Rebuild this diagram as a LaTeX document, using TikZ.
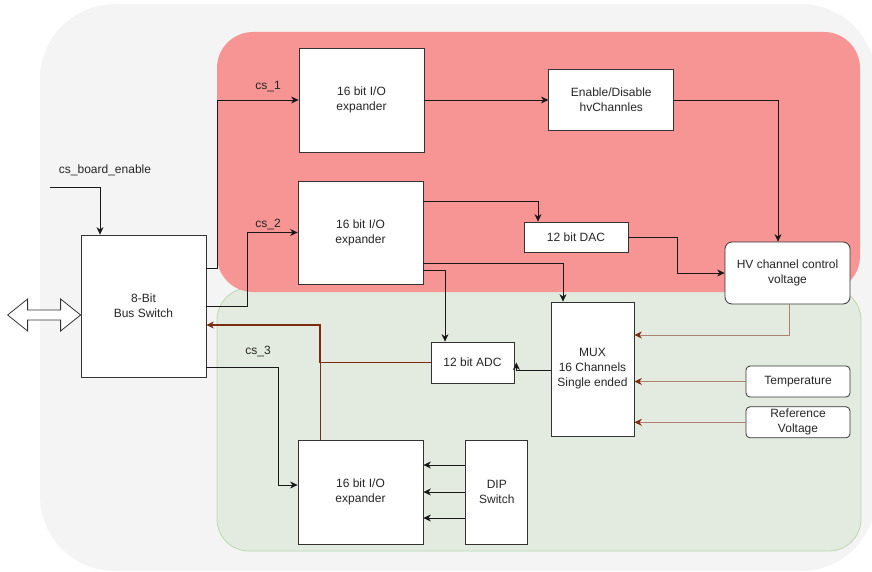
\documentclass[tikz,border=0pt]{standalone}
\usepackage{fontspec}
\setmainfont{Liberation Sans}
\usepackage{xcolor}
\usetikzlibrary{positioning,arrows.meta}

\definecolor{outerbg}{RGB}{244,244,244}
\definecolor{redbg}{RGB}{247,148,148}
\definecolor{greenbg}{RGB}{227,235,224}
\definecolor{greenln}{RGB}{185,217,171}
\definecolor{brn}{RGB}{125,45,15}

\begin{document}
\begin{tikzpicture}[
  x=1pt, y=-1pt,
  blk/.style={rectangle, draw=black!80, line width=0.8pt, fill=white,
              font=\fontsize{12}{15}\selectfont, text=black!85,
              align=center, inner sep=0pt},
  rblk/.style={blk, rounded corners=7pt},
  lbl/.style={font=\fontsize{12}{14}\selectfont, text=black!85, inner sep=0pt},
  e/.style={line width=0.8pt, draw=black!90,
            -{Stealth[length=7.5pt,width=7pt]}},
  ebr/.style={line width=0.9pt, draw=brn,
            -{Stealth[length=7.5pt,width=7pt]}},
  ebrl/.style={ebr, draw=brn!60, -{Stealth[length=7.5pt,width=7pt,color=brn]}},
  wbr/.style={line width=0.9pt, draw=brn}
]
  \clip (0,0) rectangle (872,572);
  % background regions
  \fill[outerbg, rounded corners=75pt] (40,4) rectangle (876,571);
  \filldraw[fill=greenbg, draw=greenln, line width=0.8pt, rounded corners=32pt]
    (217,288) rectangle (861,551);
  \fill[redbg, rounded corners=36pt] (217,32) rectangle (860,292);

  % blocks
  \node[blk, minimum width=125pt, minimum height=142pt] (BusSw) at (143.5,306) {8-Bit\\Bus Switch};
  \node[blk, minimum width=125pt, minimum height=104pt] (IO1) at (361.5,100) {16 bit I/O\\expander};
  \node[blk, minimum width=125pt, minimum height=61pt, right=124pt of IO1] (EnD) {Enable/Disable\\hvChannles};
  \node[blk, minimum width=125pt, minimum height=103pt] (IO2) at (360.5,232.5) {16 bit I/O\\expander};
  \node[blk, minimum width=104pt, minimum height=30pt] (DAC) at (576,237) {12 bit DAC};
  \node[rblk, minimum width=125pt, minimum height=62pt] (HV) at (787.5,273) {HV channel control\\voltage};
  \node[blk, minimum width=83pt, minimum height=41pt] (ADC) at (472.5,362.5) {12 bit ADC};
  \node[blk, minimum width=83pt, minimum height=134pt] (MUX) at (592.5,369) {MUX\\16 Channels\\Single ended};
  \node[rblk, rounded corners=4pt, minimum width=104pt, minimum height=31pt] (Temp) at (798,381.5) {Temperature};
  \node[rblk, rounded corners=4pt, minimum width=104pt, minimum height=31pt, below=9pt of Temp] (Ref) {Reference\\Voltage};
  \node[blk, minimum width=125pt, minimum height=104pt] (IO3) at (360.5,492) {16 bit I/O\\expander};
  \node[blk, minimum width=62pt, minimum height=104pt, right=42pt of IO3] (DIP) {DIP\\Switch};

  % labels
  \node[lbl] (lblBoard) at (105,170) {cs\_board\_enable};
  \node[lbl] (lblCs1) at (268,87) {cs\_1};
  \node[lbl] (lblCs2) at (268,225) {cs\_2};
  \node[lbl] (lblCs3) at (258,352) {cs\_3};

  % bus
  \draw[line width=0.8pt, draw=black!80, fill=white]
    ([yshift=-9pt]BusSw.west) -- ++(-20,-16) -- ++(0,11) -- ++(-33,0) -- ++(0,-11)
    -- ++(-20,16) -- ++(20,16) -- ++(0,-11) -- ++(33,0) -- ++(0,11) -- cycle;

  % chip selects
  \coordinate (csb) at (50,187);
  \draw[e] (csb) -| ([xshift=-43.5pt]BusSw.north);
  \draw[e] ([yshift=38pt]BusSw.east) -- ++(11,0) |- (IO1.west);
  \draw[e] (BusSw.east) -- ++(41,0) |- (IO2.west);
  \draw[e] ([yshift=-61pt]BusSw.east) -- ++(72,0) |- ([yshift=7pt]IO3.west);

  % signal paths
  \draw[e] (IO1.east) -- (IO1.east -| EnD.west);
  \draw[e] (EnD.east) -| ([xshift=-9.5pt]HV.north);
  \draw[e] ([yshift=31.5pt]IO2.east) -| ([xshift=-38pt]DAC.north);
  \draw[e] (DAC.east) -- ++(49,0) |- (HV.west);
  \draw[e] ([yshift=-30.5pt]IO2.east) -| ([xshift=-29.5pt]MUX.north);
  \draw[e] ([yshift=-37.5pt]IO2.east) -| ([xshift=-27.5pt]ADC.north);
  \draw[e] ([yshift=-1pt]MUX.west) -| ([xshift=2pt]ADC.east);
  \foreach \dy in {27,0,-26}
    \draw[e] ([yshift=\dy pt]DIP.west) -- ([yshift=\dy pt]IO3.east);

  % analog inputs to the mux
  \draw[ebrl] ([xshift=1.5pt]HV.south) |- ([yshift=34pt]MUX.east);
  \draw[ebrl] (Temp.west) -- (Temp.west -| MUX.east);
  \draw[ebrl] (Ref.west) -- (Ref.west -| MUX.east);

  % readback to the bus switch
  \coordinate (fb) at ([xshift=-40.5pt]IO3.north);
  \coordinate (fbin) at ([yshift=-19pt]BusSw.east);
  \draw[wbr] (fb) -- (fb |- ADC.west);
  \draw[ebr, line width=1.2pt] (ADC.west) -| (fbin -| fb) -- (fbin);
\end{tikzpicture}
\end{document}
